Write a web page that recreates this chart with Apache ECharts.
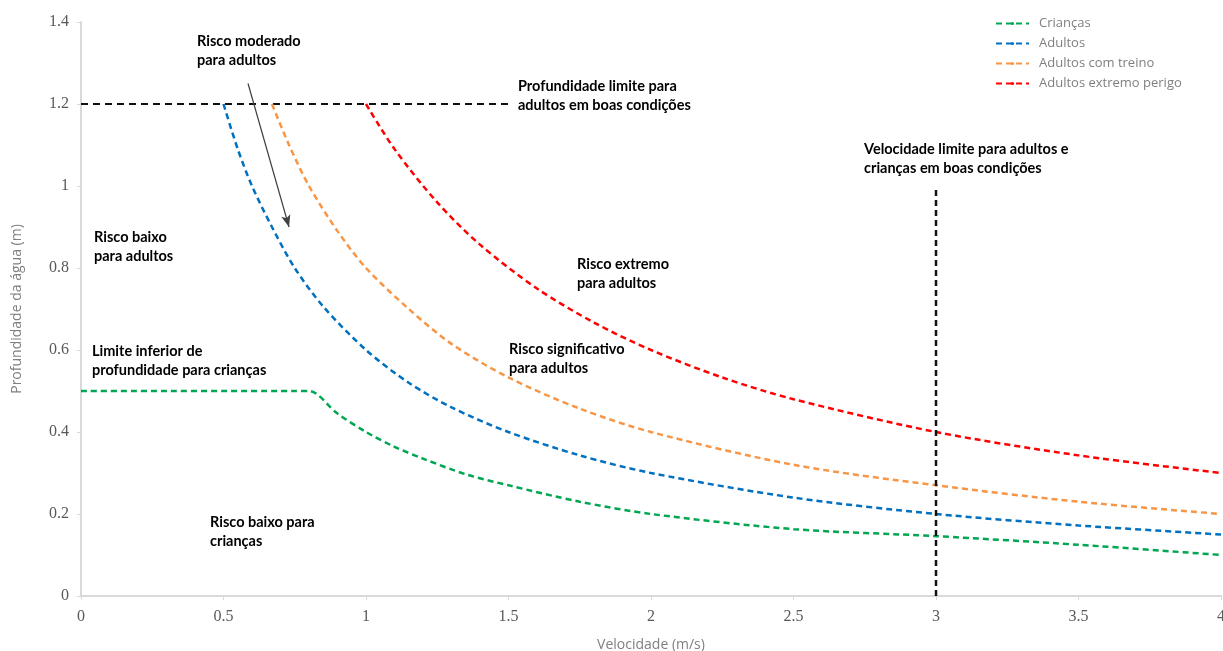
<!DOCTYPE html>
<html>
    <head>
        <meta charset="utf-8">
        <script src="https://cdn.jsdelivr.net/npm/echarts@6/dist/echarts.min.js"></script>
        <style>
            body {
                margin: 0;
                background: #fff;
            }
            #main {
                width: 1223px;
                height: 651px;
            }
        </style>
    </head>
    <body>
        <div id="main"></div>

        <script>
        // velocity (m/s) / depth (m) pairs
        var childV = [0, 0.75, 0.8, 0.9, 1, 1.1, 1.2, 1.35, 1.5, 1.75, 2, 2.5, 3, 3.5, 4];
        var childD = [0.5, 0.5, 0.5, 0.445, 0.4, 0.364, 0.335, 0.297, 0.27, 0.23, 0.2, 0.163, 0.146, 0.125, 0.1];

        var adultV = [0.5, 0.55, 0.6, 0.67, 0.75, 0.85, 1, 1.15, 1.3, 1.5, 1.75, 2, 2.5, 3, 3.5, 4];
        var adultD = [1.2, 1.09, 1.0, 0.9, 0.8, 0.706, 0.6, 0.52, 0.46, 0.4, 0.343, 0.3, 0.24, 0.2, 0.172, 0.15];

        var trainedV = [0.67, 0.73, 0.8, 0.9, 1, 1.15, 1.3, 1.5, 1.75, 2, 2.5, 3, 3.5, 4];
        var trainedD = [1.2, 1.1, 1.0, 0.89, 0.8, 0.7, 0.615, 0.533, 0.457, 0.4, 0.32, 0.27, 0.23, 0.2];

        var extremeV = [1, 1.1, 1.25, 1.4, 1.6, 1.8, 2, 2.25, 2.5, 3, 3.5, 4];
        var extremeD = [1.2, 1.09, 0.96, 0.857, 0.75, 0.667, 0.6, 0.533, 0.48, 0.4, 0.343, 0.3];

        var depthLimit = [[0, 1.2], [1.5, 1.2]];
        var speedLimit = [[3, 0], [3, 0.995]];
        var arrow = [[0.586, 1.25], [0.73, 0.9]];

        var seriesNames = ['Crianças', 'Adultos', 'Adultos com treino', 'Adultos extremo perigo'];
        var seriesColors = ['#00a651', '#0070c0', '#f79646', '#ff0000'];

        function pairs(v, d) {
            return v.map(function (x, i) { return [x, d[i]]; });
        }

        var notes = [
            { x: 197, y: 32, text: 'Risco moderado\npara adultos' },
            { x: 518, y: 77, text: 'Profundidade limite para\nadultos em boas condições' },
            { x: 94, y: 228, text: 'Risco baixo\npara adultos' },
            { x: 92, y: 342, text: 'Limite inferior de\nprofundidade para crianças' },
            { x: 210, y: 513, text: 'Risco baixo para\ncrianças' },
            { x: 577, y: 255, text: 'Risco extremo\npara adultos' },
            { x: 509, y: 340, text: 'Risco significativo\npara adultos' },
            { x: 864, y: 140, text: 'Velocidade limite para adultos e\ncrianças em boas condições' }
        ];

        var chart = echarts.init(document.getElementById('main'));

        var curves = [
            pairs(childV, childD),
            pairs(adultV, adultD),
            pairs(trainedV, trainedD),
            pairs(extremeV, extremeD)
        ];

        var series = curves.map(function (data, i) {
            return {
                name: seriesNames[i],
                type: 'line',
                data: data,
                smooth: 0.3,
                symbol: 'none',
                lineStyle: {
                    color: seriesColors[i],
                    width: 2.5,
                    type: [6, 4]
                },
                itemStyle: { color: seriesColors[i] },
                z: 3
            };
        });

        series.push({
            name: 'limite profundidade',
            type: 'line',
            data: depthLimit,
            symbol: 'none',
            lineStyle: { color: '#111', width: 2, type: [7, 5] },
            z: 2
        });
        series.push({
            name: 'limite velocidade',
            type: 'line',
            data: speedLimit,
            symbol: 'none',
            lineStyle: { color: '#111', width: 2.5, type: [6, 4] },
            z: 4
        });
        series.push({
            name: 'seta',
            type: 'line',
            data: [],
            markLine: {
                silent: true,
                symbol: ['none', 'arrow'],
                symbolSize: [7, 12],
                label: { show: false },
                lineStyle: { color: '#404040', width: 1.2, type: 'solid' },
                data: [[
                    { coord: arrow[0] },
                    { coord: arrow[1] }
                ]]
            }
        });

        chart.setOption({
            animation: false,
            backgroundColor: '#fff',
            grid: {
                left: 81,
                right: 2,
                top: 22,
                bottom: 55,
                containLabel: false,
                outerBoundsMode: 'none'
            },
            legend: {
                data: seriesNames,
                orient: 'vertical',
                left: 990,
                top: 12,
                itemWidth: 33,
                itemHeight: 4,
                itemGap: 7,
                textStyle: {
                    color: '#7f7f7f',
                    fontSize: 13,
                    fontFamily: 'Open Sans',
                    padding: [0, 0, 0, 5]
                }
            },
            xAxis: {
                type: 'value',
                min: 0,
                max: 4,
                interval: 0.5,
                name: 'Velocidade (m/s)',
                nameLocation: 'middle',
                nameGap: 42,
                nameTextStyle: {
                    color: '#808080',
                    fontSize: 14,
                    fontFamily: 'Open Sans'
                },
                axisLine: { lineStyle: { color: '#d9d9d9', width: 2 } },
                axisTick: { show: true, length: 4, lineStyle: { color: '#d9d9d9' } },
                axisLabel: {
                    color: '#595959',
                    fontSize: 16,
                    fontFamily: 'Liberation Serif',
                    margin: 13
                },
                splitLine: { show: false }
            },
            yAxis: {
                type: 'value',
                min: 0,
                max: 1.4,
                interval: 0.2,
                name: 'Profundidade da água (m)',
                nameLocation: 'middle',
                nameGap: 57,
                nameTextStyle: {
                    color: '#808080',
                    fontSize: 14,
                    fontFamily: 'Open Sans'
                },
                axisLine: { show: true, lineStyle: { color: '#d9d9d9', width: 2 } },
                axisTick: { show: true, length: 4, lineStyle: { color: '#d9d9d9' } },
                axisLabel: {
                    color: '#595959',
                    fontSize: 16,
                    fontFamily: 'Liberation Serif',
                    margin: 12
                },
                splitLine: { show: false }
            },
            graphic: notes.map(function (n) {
                return {
                    type: 'text',
                    left: n.x,
                    top: n.y,
                    z: 10,
                    style: {
                        text: n.text,
                        fill: '#000',
                        font: 'bold 14.5px Lato',
                        lineHeight: 19
                    }
                };
            }),
            series: series
        });
        </script>
    </body>
</html>
